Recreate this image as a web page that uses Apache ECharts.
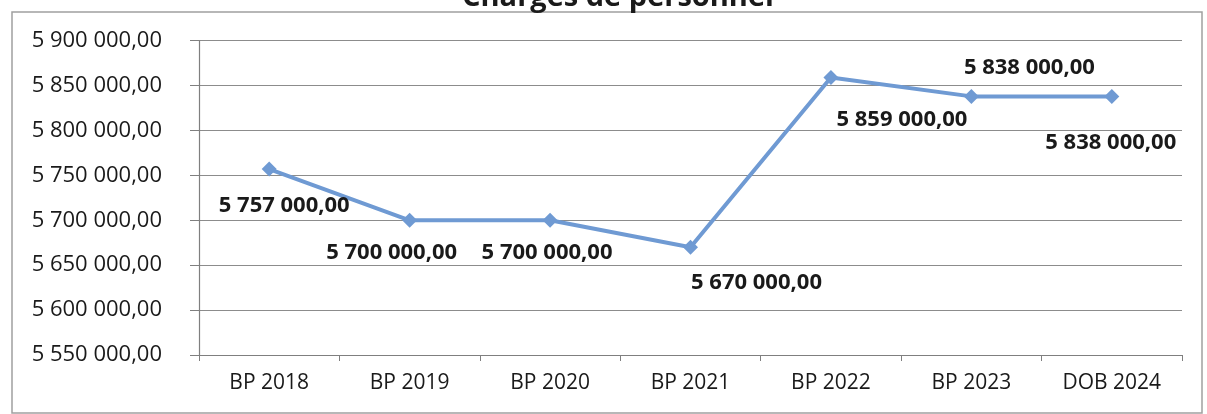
<!DOCTYPE html>
<html>
<head>
<meta charset="utf-8">
<script src="https://cdn.jsdelivr.net/npm/echarts@6/dist/echarts.min.js"></script>
<style>
  html, body { margin: 0; padding: 0; background: #fff; }
  #chart { width: 1207px; height: 414px; }
</style>
</head>
<body>
<div id="chart"></div>
<script>
const categories = ['BP 2018', 'BP 2019', 'BP 2020', 'BP 2021', 'BP 2022', 'BP 2023', 'DOB 2024'];
const values = [5757000, 5700000, 5700000, 5670000, 5859000, 5838000, 5838000];
const yMin = 5550000;
const yMax = 5900000;
const yStep = 50000;
const titleText = 'Charges de personnel';

// label placement (style only)
const labelOffsets = [[15, 37], [-18, 32], [-3, 32], [66, 35], [71, 42], [58, -29], [-1, 46]];

function fmt(v) {
  const s = Math.round(v).toString().replace(/\B(?=(\d{3})+(?!\d))/g, ' ');
  return s + ',00';
}

const chart = echarts.init(document.getElementById('chart'), null, { renderer: 'canvas' });
const FONT = '"Open Sans", sans-serif';

chart.setOption({
  animation: false,
  backgroundColor: '#fff',
  title: {
    text: titleText,
    left: 613,
    textAlign: 'center',
    top: -22,
    textStyle: { fontFamily: FONT, fontWeight: 'bold', fontSize: 29, color: '#1a1a1a' }
  },
  graphic: [{
    type: 'rect',
    shape: { x: 12, y: 12, width: 1190, height: 401 },
    style: { fill: 'none', stroke: '#a0a0a0', lineWidth: 1.5 },
    silent: true,
    z: -1
  }],
  grid: { left: 199, right: 25, top: 40.7, bottom: 59, containLabel: false },
  xAxis: {
    type: 'category',
    data: categories,
    boundaryGap: true,
    axisLine: { show: true, lineStyle: { color: '#7f7f7f', width: 1.2 } },
    axisTick: { show: true, alignWithLabel: false, length: 6, lineStyle: { color: '#7f7f7f' } },
    axisLabel: { fontFamily: FONT, fontSize: 21, color: '#1a1a1a', margin: 18 },
    splitLine: { show: false }
  },
  yAxis: {
    type: 'value',
    min: yMin,
    max: yMax,
    interval: yStep,
    axisLine: { show: true, lineStyle: { color: '#7f7f7f', width: 1.2 } },
    axisTick: { show: true, length: 9, lineStyle: { color: '#7f7f7f' } },
    axisLabel: { fontFamily: FONT, fontSize: 22, color: '#1a1a1a', margin: 37, formatter: fmt },
    splitLine: { show: true, lineStyle: { color: '#8c8c8c', width: 1.2 } }
  },
  series: [{
    type: 'line',
    data: values.map((v, i) => ({
      value: v,
      label: { offset: labelOffsets[i] }
    })),
    symbol: 'diamond',
    symbolSize: 15,
    lineStyle: { color: '#6f9ad3', width: 4 },
    itemStyle: { color: '#6f9ad3' },
    label: {
      show: true,
      position: 'inside',
      formatter: p => fmt(p.value),
      fontFamily: FONT,
      fontWeight: 'bold',
      fontSize: 22,
      color: '#1a1a1a'
    },
    z: 3
  }]
});
</script>
</body>
</html>
